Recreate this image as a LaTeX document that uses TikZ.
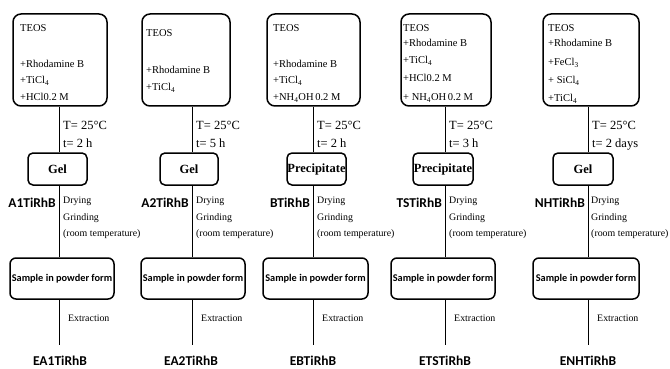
\documentclass[tikz,border=0pt]{standalone}
\usepackage{fontspec}
\setmainfont{Liberation Serif}
\newfontfamily\carl{Carlito}
\begin{document}
\begin{tikzpicture}[x=1pt,y=-1pt,
  topbox/.style={draw,line width=1.5pt,rounded corners=8pt,minimum height=92pt,inner sep=0pt},
  midbox/.style={draw,line width=1.5pt,rounded corners=5pt,minimum height=32pt,inner sep=0pt,font=\fontsize{12.5}{14}\selectfont\bfseries},
  powbox/.style={draw,line width=1.5pt,rounded corners=6pt,minimum height=41pt,minimum width=104pt,inner sep=0pt,font=\carl\fontsize{10.3}{12}\selectfont\bfseries},
  recipe/.style={anchor=base west,inner sep=0pt,font=\fontsize{10.5}{12}\selectfont},
  cond/.style={anchor=base west,inner sep=0pt,font=\fontsize{12.5}{14}\selectfont},
  proc/.style={anchor=base west,inner sep=0pt,font=\fontsize{9.9}{12}\selectfont},
  sname/.style={inner sep=0pt,font=\carl\fontsize{13.5}{15}\selectfont\bfseries},
  link/.style={line width=0.9pt}]
\useasboundingbox (0,0) rectangle (670,369);

% column axes
\coordinate (x1) at (59,0);
\coordinate (x2) at (192,0);
\coordinate (x3) at (313,0);
\coordinate (x4) at (445,0);
\coordinate (x5) at (588,0);

% top boxes
\node[topbox,minimum width=94pt] (top1) at (60,60) {};
\node[topbox,minimum width=88pt] (top2) at (186,60) {};
\node[topbox,minimum width=93pt] (top3) at (313.5,60) {};
\node[topbox,minimum width=90pt] (top4) at (446,60) {};
\node[topbox,minimum width=96pt] (top5) at (591,60) {};

% recipes
\node[recipe] (r1a) at (20,32) {TEOS};
\node[recipe] (r1b) at (20,67) {+Rhodamine B};
\node[recipe] (r1c) at (20,84) {+TiCl\textsubscript{4}};
\node[recipe] (r1d) at (20,101) {+HCl0.2 M};

\node[recipe] (r2a) at (146,37) {TEOS};
\node[recipe] (r2b) at (146,74) {+Rhodamine B};
\node[recipe] (r2c) at (146,91) {+TiCl\textsubscript{4}};

\node[recipe] (r3a) at (273,32) {TEOS};
\node[recipe] (r3b) at (273,67) {+Rhodamine B};
\node[recipe] (r3c) at (273,84) {+TiCl\textsubscript{4}};
\node[recipe] (r3d) at (273,101) {+NH\textsubscript{4}OH\,0.2 M};

\node[recipe] (r4a) at (403,32) {TEOS};
\node[recipe] (r4b) at (403,47) {+Rhodamine B};
\node[recipe] (r4c) at (403,64) {+TiCl\textsubscript{4}};
\node[recipe] (r4d) at (403,82) {+HCl0.2 M};
\node[recipe] (r4e) at (403,101) {+ NH\textsubscript{4}OH\,0.2 M};

\node[recipe] (r5a) at (548,32) {TEOS};
\node[recipe] (r5b) at (548,47) {+Rhodamine B};
\node[recipe] (r5c) at (548,66) {+FeCl\textsubscript{3}};
\node[recipe] (r5d) at (548,84) {+ SiCl\textsubscript{4}};
\node[recipe] (r5e) at (548,102) {+TiCl\textsubscript{4}};

% gel / precipitate
\node[midbox,minimum width=59pt] (mid1) at (57.5,169) {Gel};
\node[midbox,minimum width=58pt] (mid2) at (189,169) {Gel};
\node[midbox,minimum width=59pt] (mid3) at (316.5,169) {Precipitate};
\node[midbox,minimum width=60pt] (mid4) at (443,169) {Precipitate};
\node[midbox,minimum width=60pt] (mid5) at (583,169) {Gel};

% powder boxes
\node[powbox] (pow1) at (62,278.5) {Sample in powder form};
\node[powbox] (pow2) at (193,278.5) {Sample in powder form};
\node[powbox,minimum width=105pt] (pow3) at (315.5,278.5) {Sample in powder form};
\node[powbox] (pow4) at (443,278.5) {Sample in powder form};
\node[powbox,minimum width=106pt] (pow5) at (586,278.5) {Sample in powder form};

% end points
\coordinate (e1) at (59,345);
\coordinate (e2) at (192,345);
\coordinate (e3) at (313,345);
\coordinate (e4) at (445,345);
\coordinate (e5) at (588,345);

% connectors
\foreach \i in {1,...,5}{
  \draw[link] (x\i |- top\i.south) -- (x\i |- mid\i.north);
  \draw[link] (x\i |- mid\i.south) -- (x\i |- pow\i.north);
  \draw[link] (x\i |- pow\i.south) -- (e\i);
}

% conditions
\node[cond] (t1a) at (63,129) {T= 25°C};
\node[cond] (t1b) at (63,147) {t= 2 h};
\node[cond] (t2a) at (196,129) {T= 25°C};
\node[cond] (t2b) at (196,147) {t= 5 h};
\node[cond] (t3a) at (317,129) {T= 25°C};
\node[cond] (t3b) at (317,147) {t= 2 h};
\node[cond] (t4a) at (449,129) {T= 25°C};
\node[cond] (t4b) at (449,147) {t= 3 h};
\node[cond] (t5a) at (592,129) {T= 25°C};
\node[cond] (t5b) at (592,147) {t= 2 days};

% sample names
\node[sname,anchor=east] (s1) at (56,203) {A1TiRhB};
\node[sname,anchor=east] (s2) at (189,203) {A2TiRhB};
\node[sname,anchor=east] (s3) at (310,203) {BTiRhB};
\node[sname,anchor=east] (s4) at (442,203) {TSTiRhB};
\node[sname,anchor=east] (s5) at (585,203) {NHTiRhB};

% processing
\foreach \i/\xx in {1/63,2/196,3/317,4/449,5/591}{
  \node[proc] (d\i) at (\xx,203.5) {Drying};
  \node[proc] (g\i) at (\xx,220.5) {Grinding};
  \node[proc] (rt\i) at (\xx,236.5) {(room temperature)};
}
\foreach \i/\xx in {1/68,2/201,3/322,4/454,5/597}{
  \node[proc] (ex\i) at (\xx,321.5) {Extraction};
}

% extracted names
\node[sname,anchor=base] (f1) at (60,365) {EA1TiRhB};
\node[sname,anchor=base] (f2) at (191,365) {EA2TiRhB};
\node[sname,anchor=base] (f3) at (313,365) {EBTiRhB};
\node[sname,anchor=base] (f4) at (445,365) {ETSTiRhB};
\node[sname,anchor=base] (f5) at (588,365) {ENHTiRhB};
\end{tikzpicture}
\end{document}
